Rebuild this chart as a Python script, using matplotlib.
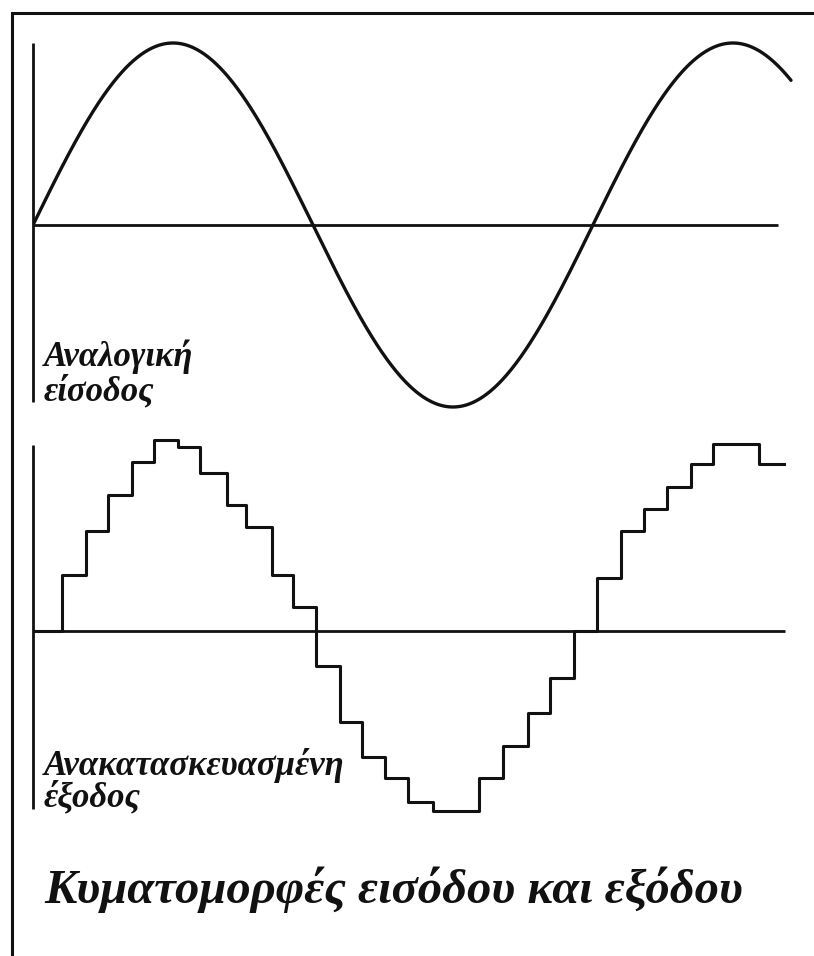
import matplotlib
matplotlib.use("Agg")
import matplotlib.pyplot as plt
import numpy as np
from matplotlib.patches import Rectangle

# Analog input: a sine wave (time in sample intervals, amplitude normalised)
sine_period = 24.0
sine_amplitude = 1.0
sine_end = 32.49

# Reconstructed output: edge times (sample intervals) and held levels
step_times = [0.00, 1.24, 2.27, 3.21, 4.24, 5.19, 6.21, 7.16, 8.31, 9.13,
              10.24, 11.14, 12.13, 13.16, 14.10, 15.09, 16.07, 17.14, 19.12,
              20.14, 21.22, 22.16, 23.19, 24.17, 25.20, 26.19, 27.17, 28.20,
              29.15, 31.12, 32.19]
step_levels = [0.00, 0.31, 0.55, 0.75, 0.93, 1.05, 1.01, 0.87, 0.69, 0.57,
               0.31, 0.13, -0.19, -0.50, -0.69, -0.81, -0.94, -0.99, -0.81,
               -0.63, -0.45, -0.26, 0.00, 0.29, 0.55, 0.67, 0.79, 0.92,
               1.03, 0.92, 0.92]

input_label = ["Αναλογική", "είσοδος"]
output_label = ["Ανακατασκευασμένη", "έξοδος"]
title = "Κυματομορφές εισόδου και εξόδου"

W, H = 814, 956
PX_PER_T = 23.33
PX_PER_UNIT = 182.0
AX_LEFT = 33
INK = "#111111"
SERIF = ["Liberation Serif", "DejaVu Serif"]

fig = plt.figure(figsize=(W / 100, H / 100), dpi=100)
fig.patch.set_facecolor("white")

# outer frame (top and left edges visible)
fig.add_artist(Rectangle((12 / W, -0.1), 1.2, 1 - 13 / H + 0.1,
                         transform=fig.transFigure, fill=False,
                         edgecolor=INK, linewidth=2.2))


def add_panel(y_top, y_bot, y_zero):
    ax = fig.add_axes([AX_LEFT / W, 1 - y_bot / H,
                       (W - AX_LEFT) / W, (y_bot - y_top) / H])
    ax.set_xlim(0, (W - AX_LEFT) / PX_PER_T)
    ax.set_ylim((y_zero - y_bot) / PX_PER_UNIT, (y_zero - y_top) / PX_PER_UNIT)
    ax.axis("off")
    return ax


# --- input panel ---
ax1 = add_panel(20, 420, 225)
ax1.plot([0, 0], [-0.97, 1.0], color=INK, lw=2.0, clip_on=False,
         solid_capstyle="butt")
ax1.plot([0, 31.93], [0, 0], color=INK, lw=2.0, solid_capstyle="butt")
t = np.linspace(0, sine_end, 800)
ax1.plot(t, sine_amplitude * np.sin(2 * np.pi * t / sine_period),
         color=INK, lw=2.4, solid_capstyle="round", zorder=3)

# --- output panel ---
ax2 = add_panel(430, 830, 631)
ax2.plot([0, 0], [-0.98, 1.02], color=INK, lw=2.0, clip_on=False,
         solid_capstyle="butt")
ax2.plot([0, 32.23], [0, 0], color=INK, lw=2.0, solid_capstyle="butt")
ax2.plot(step_times, step_levels, drawstyle="steps-post", color=INK,
         lw=2.2, zorder=3)

text_kw = dict(family=SERIF, fontweight="bold", fontstyle="italic",
               color=INK, va="baseline", ha="left")
fig.text(44 / W, 1 - 366 / H, input_label[0], fontsize=25, **text_kw)
fig.text(44 / W, 1 - 400 / H, input_label[1], fontsize=25, **text_kw)
fig.text(44 / W, 1 - 775 / H, output_label[0], fontsize=25, **text_kw)
fig.text(44 / W, 1 - 806 / H, output_label[1], fontsize=25, **text_kw)
fig.text(44 / W, 1 - 903 / H, title, fontsize=35, **text_kw)

fig.savefig("out.png", dpi=100, facecolor="white")
